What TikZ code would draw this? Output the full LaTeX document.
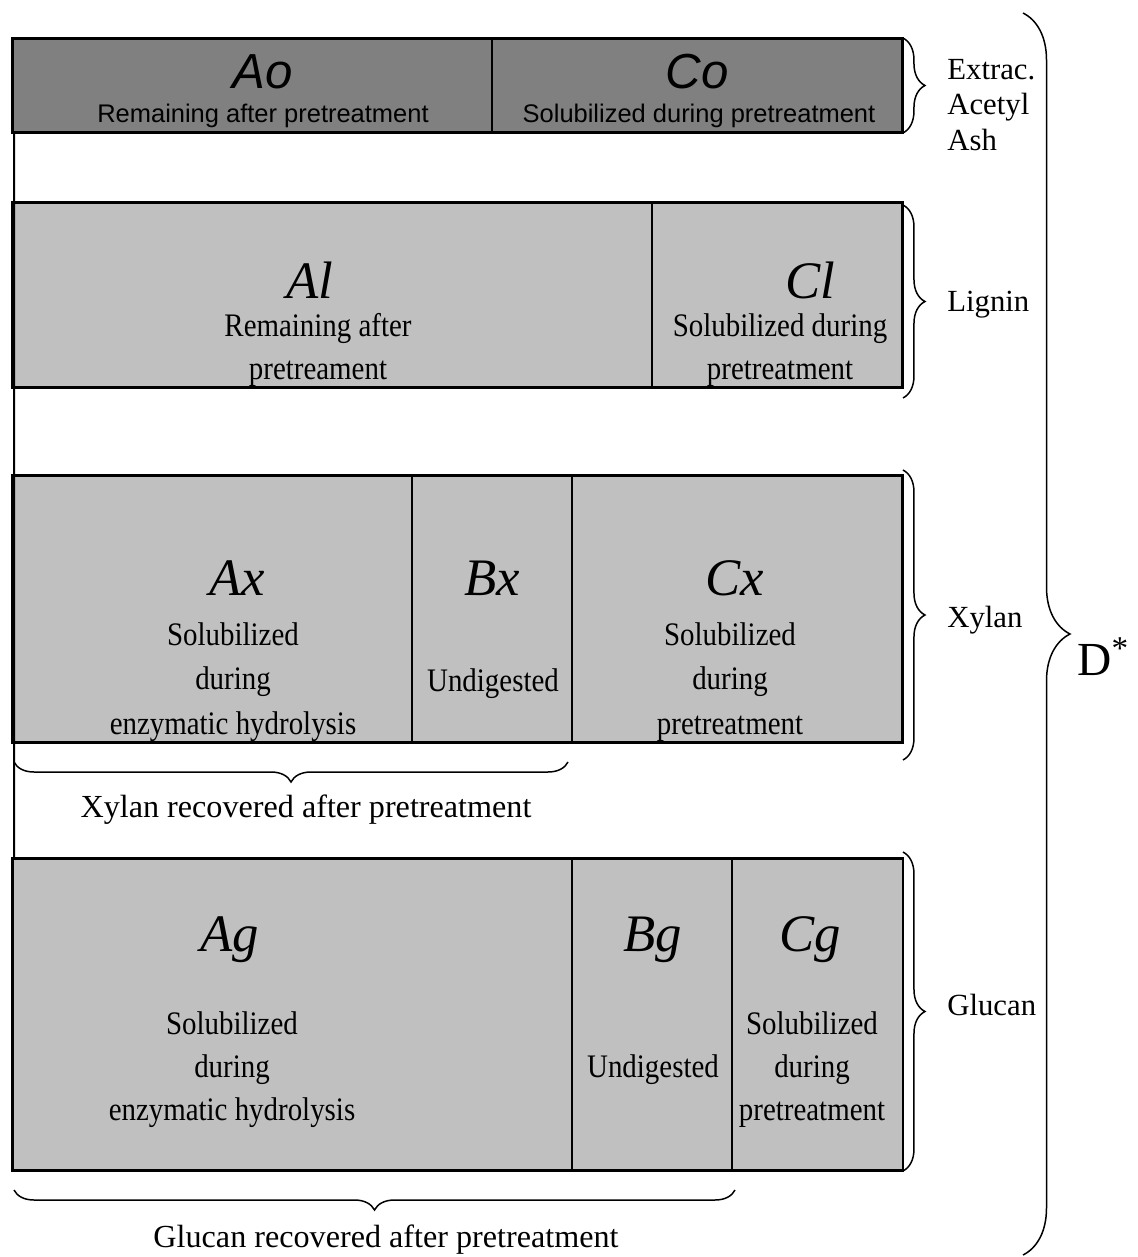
\documentclass[tikz,border=0pt]{standalone}
\usepackage{fontspec}
\setmainfont{Liberation Serif}
\newfontfamily\arialfont{Liberation Sans}
\newfontfamily\cellfont[FakeStretch=0.88]{Liberation Serif}
\usetikzlibrary{decorations.pathreplacing}
\definecolor{darkfill}{HTML}{808080}
\definecolor{lightfill}{HTML}{C0C0C0}
\tikzset{
    cell/.style={draw, fill=lightfill, line width=1.1pt, inner sep=0pt, outer sep=0pt},
    darkcell/.style={cell, fill=darkfill},
    rowframe/.style={line width=1.7pt},
    letter/.style={font=\fontsize{30}{30}\selectfont\itshape, inner sep=0pt},
    sansletter/.style={font=\fontsize{28}{28}\selectfont\arialfont\itshape, inner sep=0pt},
    desc/.style={font=\fontsize{18.7}{24.5}\cellfont, align=center, inner sep=0pt},
    sansdesc/.style={font=\fontsize{14.5}{17}\selectfont\arialfont, inner sep=0pt},
    sidelabel/.style={font=\fontsize{17.5}{20}\selectfont, align=left, anchor=west, inner sep=0pt},
    reclabel/.style={font=\fontsize{18.3}{20}\selectfont, inner sep=0pt},
    rbrace/.style={decorate, decoration={brace, amplitude=4.4mm}, line width=0.85pt},
    bbrace/.style={decorate, decoration={brace, amplitude=4mm}, line width=0.85pt},
    bigbrace/.style={decorate, decoration={brace, amplitude=9.4mm}, line width=0.85pt}
}
\begin{document}
\begin{tikzpicture}[x=0.02cm, y=-0.02cm]
        \useasboundingbox (0,0) rectangle (1137,1257);

        % Extractives, acetyl, ash
        \node[darkcell, minimum width=480*0.2mm, minimum height=95*0.2mm] (ocell) at (252,85.5) {};
        \node[darkcell, minimum width=411*0.2mm, minimum height=95*0.2mm] (cocell) at (697.5,85.5) {};
        \node[sansletter] (ao) at (263,72) {Ao};
        \node[sansdesc] (aotxt) at (263,116) {Remaining after pretreatment};
        \node[sansletter] (co) at (697,72) {Co};
        \node[sansdesc] (cotxt) at (699,116) {Solubilized during pretreatment};

        % Lignin
        \node[cell, minimum width=640*0.2mm, minimum height=186*0.2mm] (lcell) at (332,295) {};
        \node[cell, minimum width=251*0.2mm, minimum height=186*0.2mm] (clcell) at (777.5,295) {};
        \node[letter] (al) at (310,280) {Al};
        \node[desc] (altxt) at (318,350) {Remaining after\\pretreament};
        \node[letter] (cl) at (810,280) {Cl};
        \node[desc] (cltxt) at (780,350) {Solubilized during\\pretreatment};

        % Xylan
        \node[cell, minimum width=400*0.2mm, minimum height=268*0.2mm] (axcell) at (212,609) {};
        \node[cell, minimum width=160*0.2mm, minimum height=268*0.2mm] (bxcell) at (492,609) {};
        \node[cell, minimum width=331*0.2mm, minimum height=268*0.2mm] (cxcell) at (737.5,609) {};
        \node[letter] (ax) at (237,578) {Ax};
        \node[desc, font=\fontsize{18.7}{25.5}\cellfont] (axtxt) at (233,682) {Solubilized\\during\\enzymatic hydrolysis};
        \node[letter] (bx) at (492,578) {Bx};
        \node[desc] (bxtxt) at (493,684) {Undigested};
        \node[letter] (cx) at (735,578) {Cx};
        \node[desc, font=\fontsize{18.7}{25.5}\cellfont] (cxtxt) at (730,682) {Solubilized\\during\\pretreatment};

        % Glucan
        \node[cell, minimum width=560*0.2mm, minimum height=313*0.2mm] (agcell) at (292,1014.5) {};
        \node[cell, minimum width=160*0.2mm, minimum height=313*0.2mm] (bgcell) at (652,1014.5) {};
        \node[cell, minimum width=171*0.2mm, minimum height=313*0.2mm] (cgcell) at (817.5,1014.5) {};
        \node[letter] (ag) at (230,940) {Ag};
        \node[desc] (agtxt) at (232,1070) {Solubilized\\during\\enzymatic hydrolysis};
        \node[letter] (bg) at (653,940) {Bg};
        \node[desc] (bgtxt) at (653,1070) {Undigested};
        \node[letter] (cg) at (810,940) {Cg};
        \node[desc] (cgtxt) at (812,1070) {Solubilized\\during\\pretreatment};

        % Row outlines and left rail
        \draw[rowframe] (ocell.north west) rectangle (cocell.south east);
        \draw[rowframe] (lcell.north west) rectangle (clcell.south east);
        \draw[rowframe] (axcell.north west) rectangle (cxcell.south east);
        \draw[rowframe] (agcell.north west) rectangle (cgcell.south east);
        \draw[line width=1.1pt] ([xshift=0.4mm]ocell.south west) -- ([xshift=0.4mm]agcell.north west);

        % Side braces
        \draw[rbrace] (cocell.north east) -- (cocell.south east);
        \draw[rbrace] ([yshift=-0.6mm]clcell.north east) -- ([yshift=-2mm]clcell.south east);
        \draw[rbrace] ([yshift=1mm]cxcell.north east) -- ([yshift=-3.4mm]cxcell.south east);
        \draw[rbrace] ([yshift=1.2mm]cgcell.north east) -- (cgcell.south east);
        \node[sidelabel] (extrac) at (947,105) {Extrac.\\Acetyl\\Ash};
        \node[sidelabel] (lignin) at (947,305) {Lignin};
        \node[sidelabel] (xylan) at (947,620) {Xylan};
        \node[sidelabel] (glucan) at (947,1005) {Glucan};

        % Recovered fractions
        \coordinate (xl) at (14,762);
        \coordinate (xr) at (568,762);
        \draw[bbrace] (xr) -- (xl);
        \node[reclabel] (xrec) at (306,810) {Xylan recovered after pretreatment};
        \coordinate (gl) at (14,1190);
        \coordinate (gr) at (735,1190);
        \draw[bbrace] (gr) -- (gl);
        \node[reclabel] (grec) at (386,1240) {Glucan recovered after pretreatment};

        % Total
        \coordinate (dtop) at (1023,13);
        \coordinate (dbot) at (1023,1255);
        \draw[bigbrace] (dtop) -- (dbot);
        \node[font=\fontsize{27}{27}\selectfont, anchor=west, inner sep=0pt] (dstar) at (1077,657) {D\textsuperscript{*}};
\end{tikzpicture}
\end{document}
